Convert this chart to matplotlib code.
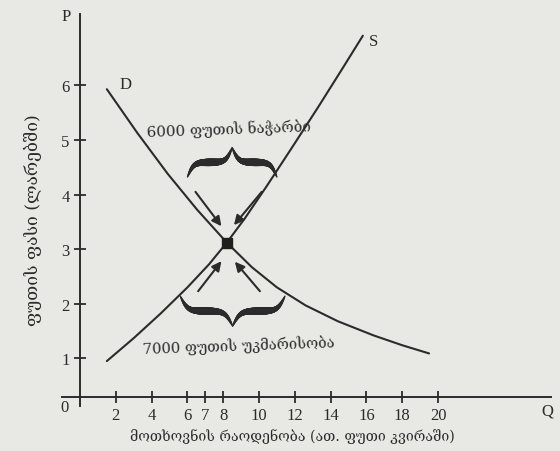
import numpy as np
import matplotlib
matplotlib.use("Agg")
import matplotlib.pyplot as plt
from matplotlib.collections import LineCollection

# Demand and supply schedules (thousand poods per week, lari per pood)
demand_q = [1.5, 3.2, 4.9, 6.55, 8.2, 9.6, 11.0, 12.6, 14.4, 16.4, 18.0, 19.5]
demand_p = [5.93, 5.13, 4.38, 3.72, 3.12, 2.67, 2.30, 1.97, 1.68, 1.42, 1.24, 1.09]
supply_q = [1.5, 3.0, 4.5, 6.0, 7.2, 8.2, 9.2, 10.4, 11.8, 13.3, 14.7, 15.8]
supply_p = [0.95, 1.37, 1.82, 2.30, 2.72, 3.12, 3.56, 4.14, 4.84, 5.60, 6.33, 6.91]
equilibrium_q = 8.2
equilibrium_p = 3.12

x_ticks = [2, 4, 6, 7, 8, 10, 12, 14, 16, 18, 20]
y_ticks = [1, 2, 3, 4, 5, 6]

surplus_label = "6000 ფუთის ნაჭარბი"
shortage_label = "7000 ფუთის უკმარისობა"
x_title = "მოთხოვნის რაოდენობა (ათ. ფუთი კვირაში)"
y_title = "ფუთის ფასი (ლარებში)"

INK = "#2b2b2b"
PAPER = "#e8e8e4"
NUM_FONT = ["Liberation Serif", "DejaVu Serif"]
GEO_FONT = ["DejaVu Serif", "DejaVu Sans"]

fig = plt.figure(figsize=(5.6, 4.52), dpi=100, facecolor=PAPER)
ax = fig.add_axes([0.1109, 0.0987, 0.8727, 0.8672])
ax.set_facecolor(PAPER)
ax.set_xlim(-1, 26.3)
ax.set_ylim(0.12, 7.3)

for side in ("top", "right"):
    ax.spines[side].set_visible(False)
ax.spines["left"].set_position(("data", 0))
ax.spines["bottom"].set_position(("data", 0.3))
for side in ("left", "bottom"):
    ax.spines[side].set_color(INK)
    ax.spines[side].set_linewidth(1.4)

ax.set_xticks(x_ticks)
ax.set_xticklabels([str(v) for v in x_ticks], family=NUM_FONT, fontsize=12, color=INK)
ax.set_yticks(y_ticks)
ax.set_yticklabels([str(v) for v in y_ticks], family=NUM_FONT, fontsize=12, color=INK)
ax.tick_params(axis="both", direction="inout", length=9, width=1.3, color=INK)
ax.tick_params(axis="x", pad=3)
ax.tick_params(axis="y", pad=3)

# Curves
ax.plot(demand_q, demand_p, color=INK, lw=1.5, solid_capstyle="round", solid_joinstyle="round")
ax.plot(supply_q, supply_p, color=INK, lw=1.5, solid_capstyle="round", solid_joinstyle="round")
ax.plot([equilibrium_q], [equilibrium_p], marker="s", ms=6.5, color="#1e1e1e")

# Curve and axis letters
ax.text(2.55, 6.03, "D", family=NUM_FONT, fontsize=12, color=INK, ha="center", va="center")
ax.text(16.4, 6.82, "S", family=NUM_FONT, fontsize=12, color=INK, ha="center", va="center")
ax.text(-0.75, 7.27, "P", family=NUM_FONT, fontsize=12, color=INK, ha="center", va="center", clip_on=False)
ax.text(26.1, 0.04, "Q", family=NUM_FONT, fontsize=12, color=INK, ha="center", va="center", clip_on=False)
ax.text(-0.85, 0.11, "0", family=NUM_FONT, fontsize=12, color=INK, ha="center", va="center", clip_on=False)

# Arrows pointing toward the equilibrium
arrow_tails = [(6.45, 4.05), (10.15, 4.05), (6.6, 2.23), (10.05, 2.23)]
arrow_heads = [(7.9, 3.42), (8.6, 3.44), (7.9, 2.78), (8.65, 2.77)]
for tail, head in zip(arrow_tails, arrow_heads):
    ax.annotate("", xy=head, xytext=tail,
                arrowprops=dict(arrowstyle="-|>", lw=1.5, color=INK,
                                mutation_scale=14, shrinkA=0, shrinkB=0))


def draw_brace(q0, q1, p_end, p_tip, k=14.0, wmax=4.6):
    u = np.linspace(0.0, 1.0, 120)
    s = 1 / (1 + np.exp(-k * u)) + 1 / (1 + np.exp(-k * (u - 1)))
    s = (s - s[0]) / (s[-1] - s[0])
    half_q = q0 + (q1 - q0) / 2 * u
    q = np.concatenate([half_q, q1 - (half_q[::-1] - q0)])
    shape = np.concatenate([s, s[::-1]])
    p = p_end + (p_tip - p_end) * shape
    w_half = 0.8 + wmax * np.sin(np.pi * u) ** 0.8
    widths = np.concatenate([w_half, w_half[::-1]])
    pts = np.column_stack([q, p])
    segs = np.stack([pts[:-1], pts[1:]], axis=1)
    lw = 0.5 * (widths[:-1] + widths[1:])
    ax.add_collection(LineCollection(segs, linewidths=lw, colors=INK,
                                     capstyle="round", joinstyle="round"))


draw_brace(6.0, 11.0, 4.32, 4.86)
draw_brace(5.6, 11.45, 2.14, 1.59)

ax.text(8.3, 5.22, surplus_label, family=GEO_FONT, fontsize=10.8, color=INK,
        ha="center", va="center", rotation=2)
ax.text(8.85, 1.25, shortage_label, family=GEO_FONT, fontsize=10.6, color=INK,
        ha="center", va="center", rotation=2)

fig.text(292 / 560, 1 - 437 / 452, x_title, family=GEO_FONT, fontsize=10.2,
         color=INK, ha="center", va="center")
fig.text(33 / 560, 1 - 220 / 452, y_title, family=GEO_FONT, fontsize=12.5,
         color=INK, ha="center", va="center", rotation=90)

fig.savefig("out.png", dpi=100, facecolor=PAPER)
